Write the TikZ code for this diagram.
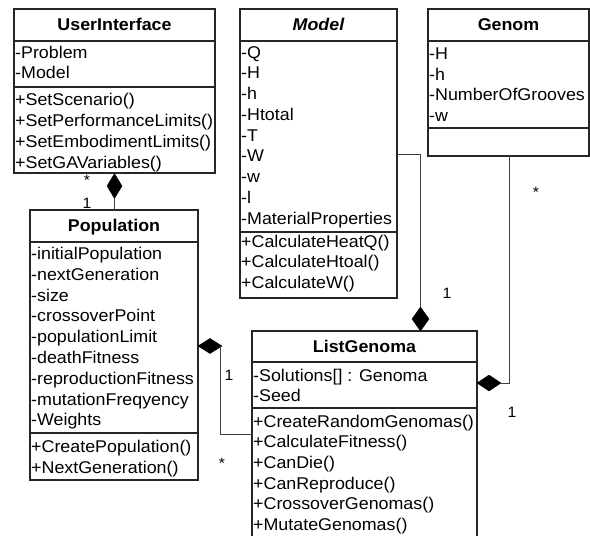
\documentclass[tikz,border=0pt]{standalone}
\usepackage{fontspec}
\setmainfont{Liberation Sans}[FakeStretch=1.05]
\usetikzlibrary{shapes.geometric}

\begin{document}
\begin{tikzpicture}[x=1pt,y=-1pt,
  umlbox/.style={draw=black!85, line width=1.4pt, rectangle, inner sep=0pt, outer sep=0pt, anchor=north west},
  rowtext/.style={anchor=base west, inner sep=0pt, font=\fontsize{17}{19}\selectfont},
  titletext/.style={anchor=base, inner sep=0pt, font=\fontsize{17}{19}\selectfont\bfseries},
  sepline/.style={draw=black!85, line width=1.2pt},
  link/.style={draw=black!75, line width=0.9pt},
  comp/.style={diamond, fill=black, draw=black, inner sep=0pt, outer sep=0pt, line width=0.4pt},
  mult/.style={font=\fontsize{15}{17}\selectfont, inner sep=0pt}]
\useasboundingbox (0,0) rectangle (590,536);

% ---------- UserInterface ----------
\node[umlbox, minimum width=201pt, minimum height=164pt] (ui) at (14,9) {};
\draw[sepline] (14,41) -- (215,41);
\draw[sepline] (14,87) -- (215,87);
\node[titletext] (uit) at (114.5,30) {UserInterface};
\foreach \t [count=\i from 0] in {{-Problem},{-Model}}
  \node[rowtext] (uia\i) at (15,58+\i*20.7) {\t};
\foreach \t [count=\i from 0] in {{+SetScenario()},{+SetPerformanceLimits()},{+SetEmbodimentLimits()},{+SetGAVariables()}}
  \node[rowtext] (uim\i) at (15,105+\i*21.3) {\t};

% ---------- Model ----------
\node[umlbox, minimum width=157pt, minimum height=289pt] (model) at (240,9) {};
\draw[sepline] (240,41) -- (397,41);
\draw[sepline] (240,232) -- (397,232);
\node[titletext, font=\fontsize{17}{19}\selectfont\bfseries\itshape] (modelt) at (318.5,30) {Model};
\foreach \t [count=\i from 0] in {{-Q},{-H},{-h},{-Htotal},{-T},{-W},{-w},{-l},{-MaterialProperties}}
  \node[rowtext] (ma\i) at (241,58+\i*20.75) {\t};
\foreach \t [count=\i from 0] in {{+CalculateHeatQ()},{+CalculateHtoal()},{+CalculateW()}}
  \node[rowtext] (mm\i) at (241,247+\i*20.7) {\t};

% ---------- Genom ----------
\node[umlbox, minimum width=161pt, minimum height=147pt] (genom) at (428,9) {};
\draw[sepline] (428,41) -- (589,41);
\draw[sepline] (428,128) -- (589,128);
\node[titletext] (genomt) at (508.5,30) {Genom};
\foreach \t [count=\i from 0] in {{-H},{-h},{-NumberOfGrooves},{-w}}
  \node[rowtext] (ga\i) at (429,59.5+\i*20.7) {\t};

% ---------- Population ----------
\node[umlbox, minimum width=168pt, minimum height=270pt] (pop) at (30,210) {};
\draw[sepline] (30,242) -- (198,242);
\draw[sepline] (30,433) -- (198,433);
\node[titletext] (popt) at (114,231) {Population};
\foreach \t [count=\i from 0] in {{-initialPopulation},{-nextGeneration},{-size},{-crossoverPoint},{-populationLimit},{-deathFitness},{-reproductionFitness},{-mutationFreqyency},{-Weights}}
  \node[rowtext] (pa\i) at (31,259.5+\i*20.8) {\t};
\foreach \t [count=\i from 0] in {{+CreatePopulation()},{+NextGeneration()}}
  \node[rowtext] (pm\i) at (31,452+\i*21) {\t};

% ---------- ListGenoma ----------
\node[umlbox, minimum width=225pt, minimum height=212pt] (lg) at (252,331) {};
\draw[sepline] (252,362) -- (477,362);
\draw[sepline] (252,408) -- (477,408);
\node[titletext] (lgt) at (364.5,352) {ListGenoma};
\foreach \t [count=\i from 0] in {{-Solutions[] : Genoma},{-Seed}}
  \node[rowtext] (la\i) at (253,381+\i*20.5) {\t};
\foreach \t [count=\i from 0] in {{+CreateRandomGenomas()},{+CalculateFitness()},{+CanDie()},{+CanReproduce()},{+CrossoverGenomas()},{+MutateGenomas()}}
  \node[rowtext] (lm\i) at (253,427+\i*20.7) {\t};

% ---------- Compositions ----------
% UserInterface <>-- Population
\node[comp, minimum width=15pt, minimum height=25pt] (d1) at (114.5,186) {};
\draw[link] (d1.south) -- (114.5,210);
\node[mult] (m1a) at (87,180) {*};
\node[mult] (m1b) at (87,203) {1};

% ListGenoma <>-- Model
\node[comp, minimum width=17pt, minimum height=24pt] (d2) at (420.5,319) {};
\coordinate (c2) at (420.5,154);
\draw[link] (d2.north) -- (c2) -- (model.east |- c2);
\node[mult] (m2) at (447,293) {1};

% ListGenoma <>-- Genom
\node[comp, minimum width=24pt, minimum height=16pt] (d3) at (489,383) {};
\coordinate (c3) at (509,383);
\draw[link] (d3.east) -- (c3) -- (c3 |- genom.south);
\node[mult] (m3a) at (536,192) {*};
\node[mult] (m3b) at (512,412) {1};

% Population <>-- ListGenoma
\node[comp, minimum width=24pt, minimum height=15pt] (d4) at (210,346) {};
\coordinate (c4) at (220.5,434);
\draw[link] (d4.east) -- (220.5,346) -- (c4) -- (lg.west |- c4);
\node[mult] (m4a) at (229,375) {1};
\node[mult] (m4b) at (222,463) {*};
\end{tikzpicture}
\end{document}
